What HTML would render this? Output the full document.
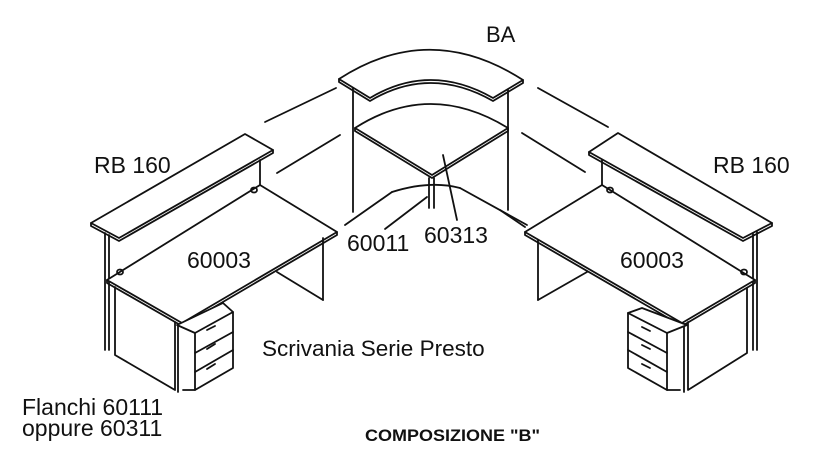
<!DOCTYPE html>
<html><head><meta charset="utf-8"><style>
html,body{margin:0;padding:0;background:#fff;width:816px;height:450px;overflow:hidden}
svg{display:block}
text{font-family:"Liberation Sans",sans-serif;fill:#111}
</style></head><body>
<svg width="816" height="450" viewBox="0 0 816 450" xmlns="http://www.w3.org/2000/svg">
<g fill="none" stroke="#111" stroke-width="1.8" stroke-linejoin="round" stroke-linecap="round">
<line x1="265" y1="122" x2="336" y2="88"/>
<line x1="277" y1="173" x2="340" y2="135"/>
<line x1="345" y1="225" x2="392" y2="192"/>
<line x1="538" y1="88" x2="608" y2="127"/>
<line x1="522" y1="133" x2="585" y2="172"/>
<line x1="460" y1="188" x2="527" y2="225"/>
<line x1="500" y1="210" x2="525" y2="227"/>

<polygon points="91,223 245,134 273,150 119,238" fill="#fff"/>
<polyline points="91,223 91,226 119,241 273,153 273,150"/>
<line x1="105" y1="233" x2="105" y2="350"/>
<line x1="109" y1="235" x2="109" y2="350"/>
<line x1="260" y1="160" x2="260" y2="185"/>
<polygon points="107,280 260,185 337,232 182,323" fill="#fff"/>
<polyline points="107,280 107,283 182,326 337,235 337,232"/>
<ellipse cx="120" cy="272" rx="3" ry="2.5"/>
<ellipse cx="254" cy="190" rx="3" ry="2.5"/>
<line x1="323" y1="238" x2="323" y2="300"/>
<line x1="277" y1="272" x2="323" y2="300"/>
<polyline points="115,287 115,355 175,390 175,322"/>
<line x1="178" y1="325" x2="178" y2="392"/>
<polygon points="177,325 223,303 233,312 195,333" fill="#fff"/>
<polyline points="195,333 195,390 233,368 233,312"/>
<line x1="195" y1="353" x2="233" y2="332"/>
<line x1="195" y1="372" x2="233" y2="350"/>
<line x1="207" y1="330" x2="215" y2="326"/>
<line x1="207" y1="349" x2="215" y2="344"/>
<line x1="207" y1="369" x2="215" y2="364"/>
<line x1="183" y1="390" x2="195" y2="390"/>

<path d="M339,79 Q430,20 523,80 L493,98 Q430,62 370,98 Z" fill="#fff"/>
<path d="M339,79 L339,82 L370,101 Q430,65 493,101 L523,83 L523,80"/>
<line x1="353" y1="88" x2="353" y2="212"/>
<line x1="508" y1="90" x2="508" y2="210"/>
<path d="M355,128 Q430,80 508,128 L432,175 Z" fill="#fff"/>
<polyline points="355,128 355,131 432,178 508,131 508,128"/>
<line x1="429" y1="178" x2="429" y2="208"/>
<line x1="434" y1="178" x2="434" y2="208"/>
<path d="M392,192 Q430,180 460,188"/>
<line x1="427" y1="197" x2="385" y2="229"/>
<line x1="443" y1="155" x2="457" y2="220"/>

<polygon points="589,152 618,133 772,223 743,238" fill="#fff"/>
<polyline points="589,152 589,155 743,241 772,226 772,223"/>
<line x1="602" y1="160" x2="602" y2="185"/>
<line x1="757" y1="232" x2="757" y2="350"/>
<line x1="753" y1="234" x2="753" y2="350"/>
<polygon points="525,232 602,185 755,280 682,323" fill="#fff"/>
<polyline points="525,232 525,235 682,326 755,283 755,280"/>
<ellipse cx="610" cy="190" rx="3" ry="2.5"/>
<ellipse cx="744" cy="272" rx="3" ry="2.5"/>
<line x1="538" y1="240" x2="538" y2="300"/>
<line x1="538" y1="300" x2="587" y2="272"/>
<polyline points="688,322 688,390 747,353 747,288"/>
<line x1="684" y1="324" x2="684" y2="392"/>
<polygon points="628,313 642,308 687,325 667,333" fill="#fff"/>
<polyline points="628,313 628,368 667,390 667,333"/>
<line x1="628" y1="332" x2="667" y2="353"/>
<line x1="628" y1="350" x2="667" y2="372"/>
<line x1="642" y1="327" x2="650" y2="331"/>
<line x1="642" y1="345" x2="650" y2="349"/>
<line x1="642" y1="364" x2="650" y2="368"/>
<line x1="667" y1="390" x2="680" y2="390"/>
</g>
<text x="486" y="42" font-size="22">BA</text>
<text x="94" y="173" font-size="23">RB 160</text>
<text x="713" y="173" font-size="23">RB 160</text>
<text x="187" y="268" font-size="23">60003</text>
<text x="620" y="268" font-size="23">60003</text>
<text x="347" y="251" font-size="23">60011</text>
<text x="424" y="243" font-size="23">60313</text>
<text x="262" y="356" font-size="22.5">Scrivania Serie Presto</text>
<text x="22" y="415" font-size="23">Flanchi 60111</text>
<text x="22" y="436" font-size="23">oppure 60311</text>
<text x="365" y="441" font-size="17" font-weight="bold" textLength="175" lengthAdjust="spacingAndGlyphs">COMPOSIZIONE "B"</text>
</svg>
</body></html>
